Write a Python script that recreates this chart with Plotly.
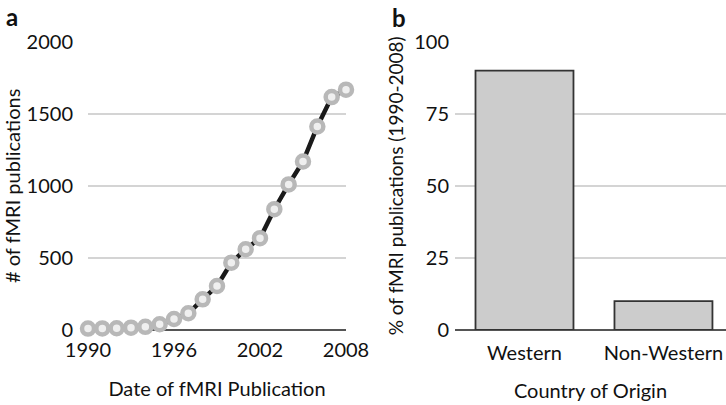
import plotly.graph_objects as go

years = list(range(1990, 2009))
pubs = [10, 11, 12, 16, 22, 40, 76, 116, 213, 305, 467, 560, 637, 838, 1010, 1169, 1412, 1616, 1667]
year_ticks = [1990, 1996, 2002, 2008]
y_ticks_a = [0, 500, 1000, 1500, 2000]

regions = ["Western", "Non-Western"]
percent = [90, 10]
y_ticks_b = [0, 25, 50, 75, 100]

FONT = "Lato"
W, H = 726, 405

def px_x(p):
    return p / W

def px_y(p):
    return 1 - p / H

fig = go.Figure()

fig.add_trace(go.Scatter(
    x=years, y=pubs, mode="lines+markers", xaxis="x", yaxis="y",
    line=dict(color="#1a1a1a", width=4.5),
    marker=dict(size=12, color="#efefef", line=dict(color="#b8b8b8", width=4.5)),
    cliponaxis=False, showlegend=False,
))

fig.add_trace(go.Bar(
    x=regions, y=percent, xaxis="x2", yaxis="y2", width=0.705,
    marker=dict(color="#cccccc", line=dict(color="#333333", width=1.8)),
    showlegend=False,
))

axis_font = dict(family=FONT, size=20, color="#111111")
title_font = dict(family=FONT, size=20, color="#111111")
grid = "#d4d4d4"

fig.update_layout(
    width=W, height=H,
    margin=dict(l=0, r=0, t=0, b=0),
    paper_bgcolor="white", plot_bgcolor="white",
    font=dict(family=FONT, color="#111111"),
    xaxis=dict(
        domain=[px_x(88), px_x(346)], range=[1990, 2008],
        tickvals=year_ticks, showgrid=False, zeroline=False,
        showline=False, tickfont=axis_font, ticks="", ticklabelstandoff=6,
        title=dict(text="Date of fMRI Publication", font=title_font, standoff=21),
        anchor="y", automargin=False,
    ),
    yaxis=dict(
        domain=[px_y(330), px_y(41.7)], range=[0, 2000],
        tickvals=y_ticks_a, showgrid=True, gridcolor=grid, gridwidth=1.5,
        zeroline=True, zerolinecolor="#555555", zerolinewidth=1.5,
        tickfont=axis_font, ticks="", ticklabelstandoff=14,
        title=dict(text="# of fMRI publications", font=title_font, standoff=8),
        anchor="x", automargin=False,
    ),
    xaxis2=dict(
        domain=[px_x(455), 1.0], range=[-0.5, 1.45],
        showgrid=False, zeroline=False, showline=False,
        tickfont=axis_font, ticks="", ticklabelstandoff=9,
        title=dict(text="Country of Origin", font=title_font, standoff=20),
        anchor="y2", automargin=False,
    ),
    yaxis2=dict(
        domain=[px_y(330), px_y(41.7)], range=[0, 100],
        tickvals=y_ticks_b, showgrid=True, gridcolor=grid, gridwidth=1.5,
        zeroline=True, zerolinecolor="#555555", zerolinewidth=1.5,
        tickfont=axis_font, ticks="", ticklabelstandoff=5,
        title=dict(text="% of fMRI publications (1990-2008)", font=dict(family=FONT, size=19, color="#111111"), standoff=5),
        anchor="x2", automargin=False,
    ),
    annotations=[
        dict(text="<b>a</b>", x=px_x(12), y=px_y(16), xref="paper", yref="paper",
             xanchor="center", yanchor="middle",
             showarrow=False, font=dict(family=FONT, size=24, color="#111111")),
        dict(text="<b>b</b>", x=px_x(399), y=px_y(18), xref="paper", yref="paper",
             xanchor="center", yanchor="middle",
             showarrow=False, font=dict(family=FONT, size=24, color="#111111")),
    ],
)

fig.write_html("out.html")
